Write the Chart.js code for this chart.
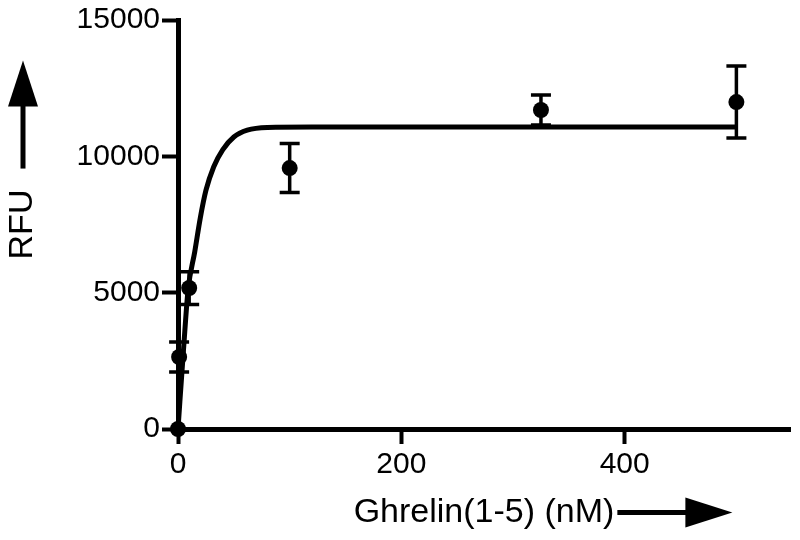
<!DOCTYPE html>
<html lang="en">

<head>
    <meta charset="UTF-8">
    <title>Ghrelin(1-5) RFU</title>
    <script src="https://cdn.jsdelivr.net/npm/chart.js"></script>
    <style>
        body { margin: 0; background: #fff; }
        #grafico { display: block; }
    </style>
</head>

<body>
    <canvas id="grafico" width="800" height="540"></canvas>
</body>

<script>
    // pontos medidos (nM, RFU, erro)
    const concentracoes = [0, 1, 10, 100, 325, 500];
    const rfuMedia = [0, 2640, 5170, 9570, 11700, 11990];
    const rfuErro = [0, 550, 600, 900, 550, 1320];

    // curva ajustada
    const curvaX = [0, 5, 9, 15, 20, 25, 32, 40, 50, 62, 80, 120, 200, 500];
    const curvaY = [0, 2950, 5100, 6500, 7750, 8750, 9620, 10240, 10710, 10960, 11060, 11075, 11075, 11080];

    const ticksX = [0, 200, 400];
    const ticksY = [0, 5000, 10000, 15000];

    const fonte = "'Liberation Sans', Arial, sans-serif";

    function pares(xs, ys) {
        let res = [];
        for (let i = 0; i < xs.length; i++) {
            res.push({ x: xs[i], y: ys[i] });
        }
        return res;
    }

    const barrasErro = {
        id: 'barrasErro',
        afterDatasetsDraw(chart) {
            const ctx = chart.ctx;
            const sx = chart.scales.x;
            const sy = chart.scales.y;
            ctx.save();
            ctx.strokeStyle = '#000';
            ctx.lineWidth = 3.5;
            for (let i = 0; i < concentracoes.length; i++) {
                if (!rfuErro[i]) continue;
                const px = sx.getPixelForValue(concentracoes[i]);
                const topo = sy.getPixelForValue(rfuMedia[i] + rfuErro[i]);
                const base = sy.getPixelForValue(rfuMedia[i] - rfuErro[i]);
                ctx.beginPath();
                ctx.moveTo(px, topo);
                ctx.lineTo(px, base);
                ctx.moveTo(px - 10, topo);
                ctx.lineTo(px + 10, topo);
                ctx.moveTo(px - 10, base);
                ctx.lineTo(px + 10, base);
                ctx.stroke();
            }
            ctx.restore();
        }
    };

    // setas ao lado dos titulos dos eixos
    const setas = {
        id: 'setas',
        afterDraw(chart) {
            const ctx = chart.ctx;
            const area = chart.chartArea;
            const sx = chart.scales.x;
            ctx.save();
            ctx.font = '34px ' + fonte;
            ctx.fillStyle = '#000';
            ctx.strokeStyle = '#000';
            ctx.lineWidth = 5;

            // seta horizontal
            const wx = ctx.measureText(sx.options.title.text).width;
            const cx = (area.left + area.right) / 2;
            const cy = sx.bottom - 7 - 20.4;
            const x0 = cx + wx / 2 + 3;
            ctx.beginPath();
            ctx.moveTo(x0, cy);
            ctx.lineTo(x0 + 72, cy);
            ctx.stroke();
            ctx.beginPath();
            ctx.moveTo(x0 + 68, cy - 15);
            ctx.lineTo(x0 + 115, cy);
            ctx.lineTo(x0 + 68, cy + 15);
            ctx.closePath();
            ctx.fill();

            // seta vertical
            const wy = ctx.measureText(chart.scales.y.options.title.text).width;
            const yx = 2.6 + 20.4;
            const yc = (area.top + area.bottom) / 2;
            const y0 = yc - wy / 2 - 21;
            ctx.beginPath();
            ctx.moveTo(yx, y0);
            ctx.lineTo(yx, y0 - 66);
            ctx.stroke();
            ctx.beginPath();
            ctx.moveTo(yx - 15, y0 - 62);
            ctx.lineTo(yx, y0 - 108);
            ctx.lineTo(yx + 15, y0 - 62);
            ctx.closePath();
            ctx.fill();
            ctx.restore();
        }
    };

    const config = {
        type: 'scatter',
        data: {
            datasets: [{
                label: 'RFU',
                data: pares(concentracoes, rfuMedia),
                pointRadius: 8,
                pointHoverRadius: 8,
                pointBorderWidth: 0,
                backgroundColor: '#000',
                borderColor: '#000',
                clip: false
            }, {
                label: 'ajuste',
                data: pares(curvaX, curvaY),
                showLine: true,
                cubicInterpolationMode: 'monotone',
                borderColor: '#000',
                borderWidth: 5,
                pointRadius: 0,
                clip: false
            }]
        },
        options: {
            responsive: false,
            animation: false,
            events: [],
            layout: { padding: { left: 0, top: 20, right: 10, bottom: 0 } },
            plugins: {
                legend: { display: false },
                tooltip: { enabled: false }
            },
            scales: {
                x: {
                    type: 'linear',
                    min: 0,
                    max: 548,
                    afterBuildTicks: function (scale) {
                        scale.ticks = ticksX.map(v => ({ value: v }));
                    },
                    afterFit: function (scale) {
                        scale.height = 111;
                    },
                    border: { display: true, color: '#000', width: 5 },
                    grid: {
                        drawOnChartArea: false,
                        drawTicks: true,
                        tickLength: 15,
                        tickWidth: 4,
                        tickColor: '#000',
                        color: '#000'
                    },
                    ticks: {
                        color: '#000',
                        padding: 3,
                        font: { family: fonte, size: 30 },
                        callback: v => String(v)
                    },
                    title: {
                        display: true,
                        text: 'Ghrelin(1-5) (nM)',
                        color: '#000',
                        padding: { top: 0, bottom: 7 },
                        font: { family: fonte, size: 34 }
                    }
                },
                y: {
                    type: 'linear',
                    min: 0,
                    max: 15000,
                    afterBuildTicks: function (scale) {
                        scale.ticks = ticksY.map(v => ({ value: v }));
                    },
                    afterFit: function (scale) {
                        scale.width = 178;
                    },
                    border: { display: true, color: '#000', width: 5 },
                    grid: {
                        drawOnChartArea: false,
                        drawTicks: true,
                        tickLength: 16,
                        tickWidth: 4,
                        tickColor: '#000',
                        color: '#000'
                    },
                    ticks: {
                        color: '#000',
                        padding: 2,
                        font: { family: fonte, size: 30 },
                        callback: v => String(v)
                    },
                    title: {
                        display: true,
                        text: 'RFU',
                        color: '#000',
                        padding: { top: 2.6, bottom: 0 },
                        font: { family: fonte, size: 34 }
                    }
                }
            }
        },
        plugins: [barrasErro, setas]
    };

    new Chart(document.getElementById('grafico'), config);
</script>

</html>
